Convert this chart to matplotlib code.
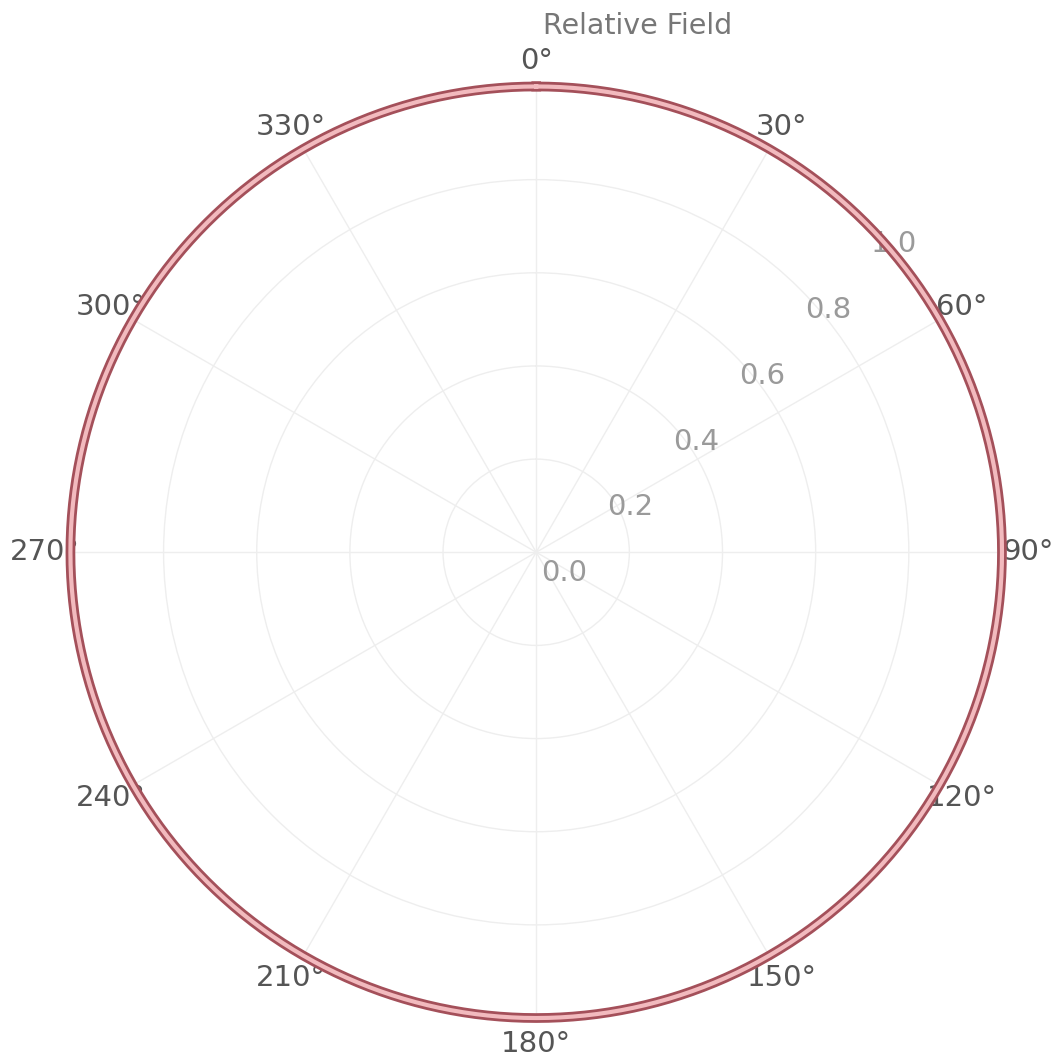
import numpy as np
import matplotlib
matplotlib.use("Agg")
import matplotlib.pyplot as plt
import matplotlib.transforms as mtransforms

# omnidirectional pattern: relative field = 1 at every azimuth
azimuth_deg = [0, 30, 60, 90, 120, 150, 180, 210, 240, 270, 300, 330, 360]
relative_field = [1.0, 1.0, 1.0, 1.0, 1.0, 1.0, 1.0, 1.0, 1.0, 1.0, 1.0, 1.0, 1.0]
r_ticks = [0.0, 0.2, 0.4, 0.6, 0.8, 1.0]
theta_ticks = [0, 30, 60, 90, 120, 150, 180, 210, 240, 270, 300, 330]

fig = plt.figure(figsize=(10.62, 10.61), dpi=100)
ax = fig.add_axes([0.0659, 0.0405, 0.878, 0.878], projection="polar")
ax.set_theta_zero_location("N")
ax.set_theta_direction(-1)

# smooth the circle between the read points (same value everywhere)
th = np.linspace(0, 2 * np.pi, 721)
r = np.interp(np.degrees(th), azimuth_deg, relative_field)
ax.plot(th, r, color="#a4505a", lw=7.0, clip_on=False, zorder=3)
ax.plot(th, r, color="#f2babe", lw=3.0, clip_on=False, zorder=4)

ax.set_ylim(0, 1.0)
ax.set_yticks(r_ticks)
ax.set_yticklabels([f"{v:.1f}" for v in r_ticks], color="#9a9a9a", fontsize=21)
ax.set_rlabel_position(45)
shift = mtransforms.ScaledTranslation(5 / 100, -35 / 100, fig.dpi_scale_trans)
for lab in ax.get_yticklabels():
    lab.set_transform(lab.get_transform() + shift)
ax.set_xticks(np.radians(theta_ticks))
ax.set_xticklabels([f"{t}°" for t in theta_ticks], color="#555555", fontsize=21)
ax.tick_params(axis="x", pad=8)
ax.grid(True, color="#eeeeee", lw=1.0)
ax.spines["polar"].set_visible(False)

fig.text(543 / 1062, 1 - 26 / 1061, "Relative Field", color="#777777",
         fontsize=20.5, ha="left", va="center")

fig.savefig("out.png", dpi=100)
